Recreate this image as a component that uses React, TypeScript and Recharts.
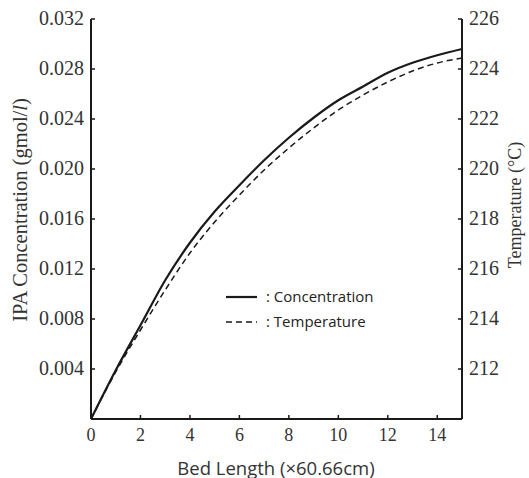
import React from "react";
import { LineChart, Line, XAxis, YAxis, Label } from "recharts";

// values
const bedLength = [0, 1, 2, 3, 4, 5, 6, 7, 8, 9, 10, 11, 12, 13, 14, 15];
const concentration = [
  0, 0.0039, 0.0075, 0.0111, 0.0141, 0.0166, 0.0187, 0.0207, 0.0225, 0.0241,
  0.0255, 0.0266, 0.0277, 0.0285, 0.0291, 0.0296,
];
const temperature = [
  210, 211.88, 213.56, 215.16, 216.64, 217.88, 218.96, 219.96, 220.84, 221.64,
  222.36, 222.96, 223.48, 223.92, 224.24, 224.44,
];
const xTicks = [0, 2, 4, 6, 8, 10, 12, 14];
const concTicks = [0.004, 0.008, 0.012, 0.016, 0.02, 0.024, 0.028, 0.032];
const tempTicks = [212, 214, 216, 218, 220, 222, 224, 226];

const data = bedLength.map((x, i) => ({
  x,
  conc: concentration[i],
  temp: temperature[i],
}));

const INK = "#1a1a1a";
const SERIF = "Liberation Serif";
const SANS = "Open Sans";
const MARGIN = 7;

// tick text plus a short tick mark pointing into the plot
const LeftTick = (props: any) => {
  const { x, y, payload } = props;
  const ax = x + MARGIN;
  return (
    <g>
      <line x1={ax} y1={y} x2={ax + 4} y2={y} stroke={INK} strokeWidth={1.5} />
      <text x={x} y={y} dy={6} textAnchor="end" fontFamily={SERIF} fontSize={20} fill="#333">
        {payload.value.toFixed(3)}
      </text>
    </g>
  );
};

const RightTick = (props: any) => {
  const { x, y, payload } = props;
  const ax = x - MARGIN;
  return (
    <g>
      <line x1={ax} y1={y} x2={ax - 4} y2={y} stroke={INK} strokeWidth={1.5} />
      <text x={x} y={y} dy={6} textAnchor="start" fontFamily={SERIF} fontSize={20} fill="#333">
        {payload.value}
      </text>
    </g>
  );
};

const BottomTick = (props: any) => {
  const { x, y, payload } = props;
  const ay = y - MARGIN;
  return (
    <g>
      <line x1={x} y1={ay} x2={x} y2={ay - 4} stroke={INK} strokeWidth={1.5} />
      <text x={x} y={y} dy={15} textAnchor="middle" fontFamily={SERIF} fontSize={18} fill="#333">
        {payload.value}
      </text>
    </g>
  );
};

const LegendBox = () => (
  <div
    style={{
      position: "absolute",
      left: 226,
      top: 284,
      fontFamily: SANS,
      fontSize: 15,
      color: "#222",
      lineHeight: "25px",
    }}
  >
    <div style={{ display: "flex", alignItems: "center" }}>
      <svg width={32} height={10}>
        <line x1={0} y1={5} x2={31} y2={5} stroke={INK} strokeWidth={2.2} />
      </svg>
      <span style={{ marginLeft: 8 }}>: Concentration</span>
    </div>
    <div style={{ display: "flex", alignItems: "center" }}>
      <svg width={32} height={10}>
        <line x1={0} y1={5} x2={31} y2={5} stroke={INK} strokeWidth={1.5} strokeDasharray="6 4" />
      </svg>
      <span style={{ marginLeft: 8 }}>: Temperature</span>
    </div>
  </div>
);

export default function App() {
  return (
    <div style={{ position: "absolute", left: 0, top: 0, width: 529, height: 478, background: "#fff" }}>
      <LineChart
        width={529}
        height={478}
        data={data}
        margin={{ top: 19, right: 0, bottom: 0, left: 0 }}
      >
        <XAxis
          dataKey="x"
          type="number"
          domain={[0, 15]}
          ticks={xTicks}
          height={59}
          tickSize={0}
          tickMargin={MARGIN}
          tick={(p: any) => <BottomTick {...p} />}
          axisLine={{ stroke: INK, strokeWidth: 2 }}
          tickLine={false}
        >
          <Label
            content={() => (
              <text
                x={276}
                y={467}
                textAnchor="middle"
                dominantBaseline="central"
                fontFamily={SANS}
                fontSize={18.5}
                fill="#333"
              >
                Bed Length (×60.66cm)
              </text>
            )}
          />
        </XAxis>
        <XAxis
          xAxisId="top"
          dataKey="x"
          type="number"
          domain={[0, 15]}
          orientation="top"
          height={0}
          tick={false}
          tickLine={false}
          axisLine={{ stroke: INK, strokeWidth: 2 }}
        />
        <YAxis
          yAxisId="left"
          type="number"
          domain={[0, 0.032]}
          ticks={concTicks}
          width={91}
          tickSize={0}
          tickMargin={MARGIN}
          tick={(p: any) => <LeftTick {...p} />}
          tickLine={false}
          axisLine={{ stroke: INK, strokeWidth: 2 }}
        >
          <Label
            content={() => (
              <text
                x={20}
                y={210}
                transform="rotate(-90 20 210)"
                textAnchor="middle"
                dominantBaseline="central"
                fontFamily={SERIF}
                fontSize={20.5}
                fill="#333"
              >
                IPA Concentration (gmol/<tspan fontStyle="italic">l</tspan>)
              </text>
            )}
          />
        </YAxis>
        <YAxis
          yAxisId="right"
          orientation="right"
          type="number"
          domain={[210, 226]}
          ticks={tempTicks}
          width={67}
          tickSize={0}
          tickMargin={MARGIN}
          tick={(p: any) => <RightTick {...p} />}
          tickLine={false}
          axisLine={{ stroke: INK, strokeWidth: 2 }}
        >
          <Label
            content={() => (
              <text
                x={515}
                y={205}
                transform="rotate(-90 515 205)"
                textAnchor="middle"
                dominantBaseline="central"
                fontFamily={SERIF}
                fontSize={18}
                fill="#333"
              >
                Temperature (°C)
              </text>
            )}
          />
        </YAxis>
        <Line
          yAxisId="left"
          dataKey="conc"
          type="monotone"
          stroke={INK}
          strokeWidth={2.2}
          dot={false}
          isAnimationActive={false}
        />
        <Line
          yAxisId="right"
          dataKey="temp"
          type="monotone"
          stroke={INK}
          strokeWidth={1.5}
          strokeDasharray="6 4"
          dot={false}
          isAnimationActive={false}
        />
      </LineChart>
      <LegendBox />
    </div>
  );
}
